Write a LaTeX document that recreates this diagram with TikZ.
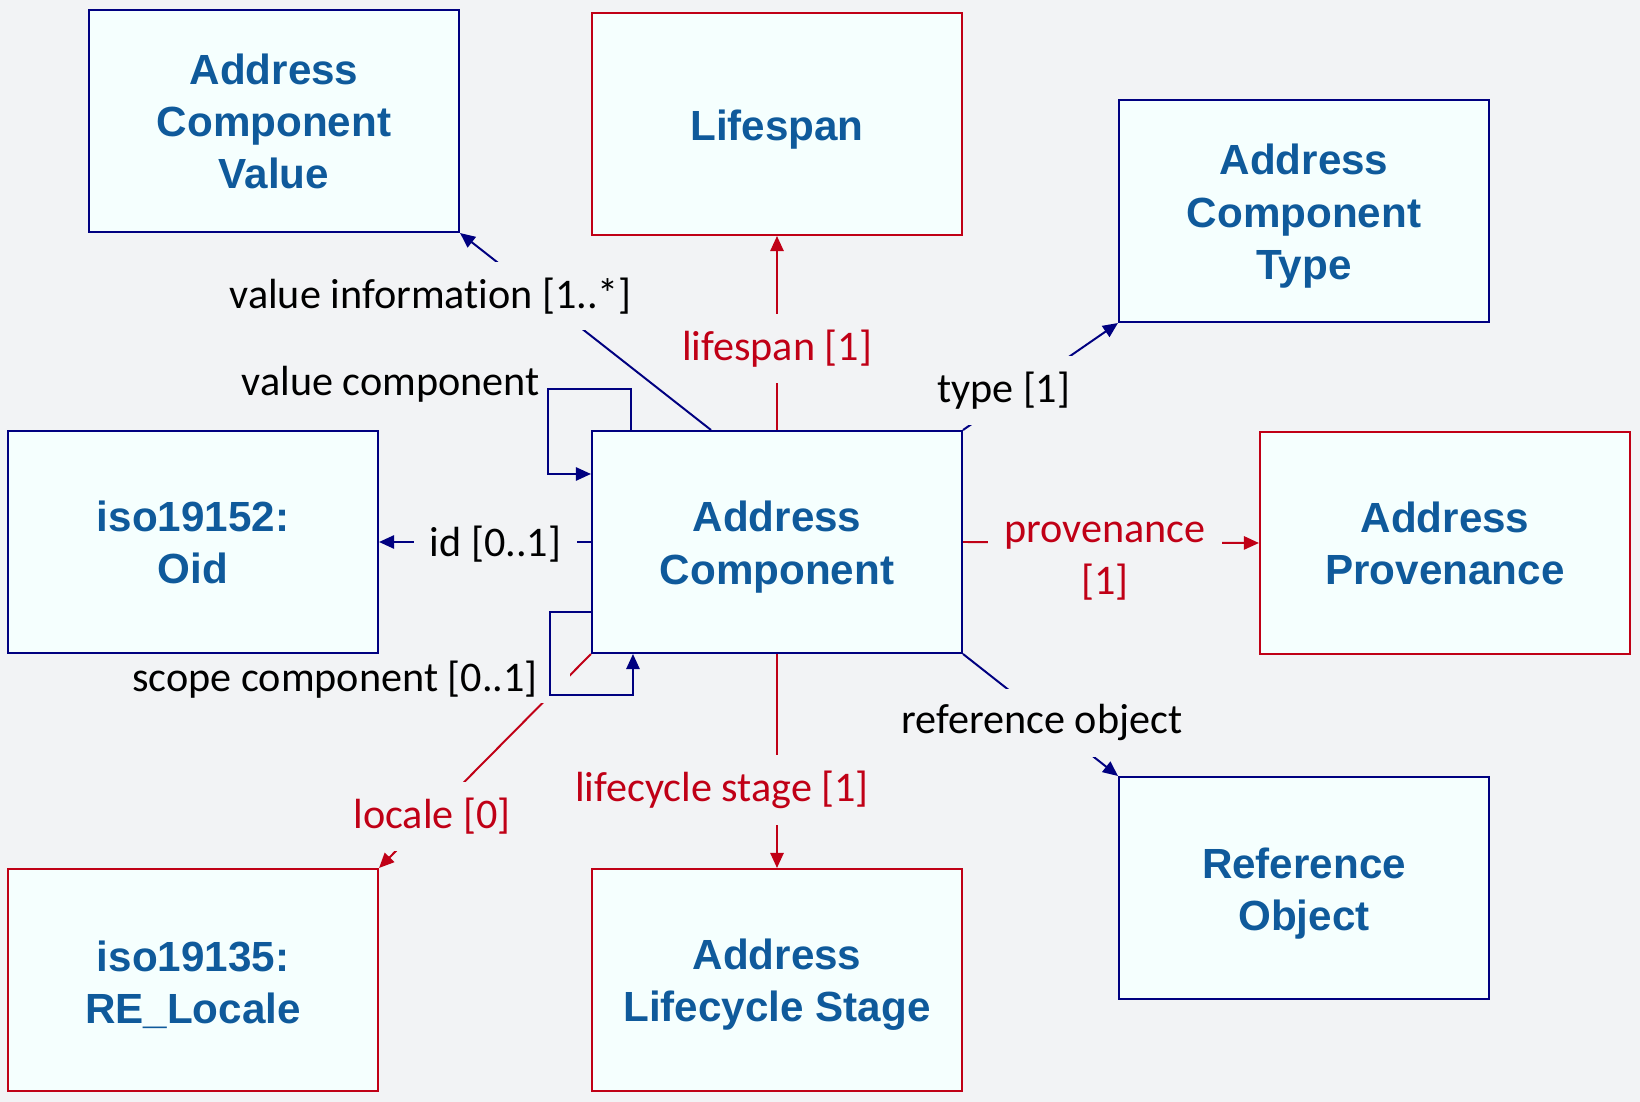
\documentclass[tikz,border=0pt]{standalone}
\usepackage{fontspec}
\setmainfont{Carlito}[Ligatures=NoCommon]
\newfontfamily\boxfont{Liberation Sans}
\usetikzlibrary{arrows.meta}
\definecolor{bgcol}{RGB}{242,243,245}
\definecolor{boxfill}{RGB}{245,255,254}
\definecolor{boxtext}{RGB}{15,90,155}
\definecolor{navy}{RGB}{0,0,128}
\definecolor{darkred}{RGB}{192,0,22}
\newcommand{\bx}{\rule{0pt}{29pt}}
\tikzset{
  cls/.style={draw=navy, fill=boxfill, line width=1.4pt, minimum width=9.25cm, minimum height=5.55cm,
    align=center, text=boxtext, font=\boxfont\bfseries\fontsize{30}{37}\selectfont},
  redcls/.style={cls, draw=darkred},
  assoc/.style={draw=navy, line width=1.4pt, -{Triangle[length=0.375cm,width=0.33cm]}},
  redassoc/.style={assoc, draw=darkred},
  gap/.style={fill=bgcol, inner sep=0.4cm, yshift=-0.05cm, align=center, font=\fontsize{30}{37}\selectfont},
  redgap/.style={gap, text=darkred},
  lbl/.style={inner sep=0pt, font=\fontsize{30}{37}\selectfont},
}
\begin{document}
\begin{tikzpicture}[x=0.025cm, y=-0.025cm]
    \useasboundingbox[fill=bgcol] (0,0) rectangle (1640,1102);
    \node[cls] (acv) at (274,121) {Address\\Component\\Value};
    \node[redcls] (life) at (777,124) {\bx Lifespan};
    \node[cls] (act) at (1304,211) {\bx Address\\Component\\Type};
    \node[cls] (oid) at (193,542) {iso19152:\\Oid};
    \node[cls] (ac) at (777,542) {\bx Address\\Component};
    \node[redcls] (prov) at (1445,543) {Address\\Provenance};
    \node[redcls] (locale) at (193,980) {\bx iso19135:\\RE\_Locale};
    \node[redcls] (stage) at (777,980) {\bx Address\\Lifecycle Stage};
    \node[cls] (ref) at (1304,888) {\bx Reference\\Object};

    \draw[assoc] ([xshift=-1.65cm]ac.north) -- node[gap, pos=0.69, xshift=-2.675cm] {value information [1..*]} (acv.south east);
    \draw[redassoc] (ac.north) -- node[redgap, pos=0.43] {lifespan [1]} (life.south);
    \draw[assoc] (ac.north east) -- node[gap, pos=0.385, xshift=-0.475cm] {type [1]} (act.south west);
    \draw[assoc] (ac.west) -- node[gap, pos=0.45] {id [0..1]} (oid.east);
    \draw[redassoc] (ac.east) -- node[redgap, pos=0.48, yshift=-0.42cm] {provenance\\{}[1]} (prov.west);
    \draw[redassoc] (ac.south) -- node[redgap, pos=0.625, xshift=-1.375cm] {lifecycle stage [1]} (stage.north);
    \draw[assoc] (ac.south east) -- node[gap, pos=0.548, xshift=-0.15cm] {reference object} (ref.north west);
    \draw[redassoc] (ac.south west) -- node[redgap, pos=0.75] {locale [0]} (locale.north east);

    \draw[assoc] ([xshift=1.0cm]ac.north west) |- node[lbl, pos=1, anchor=east, xshift=-0.18cm, yshift=0.125cm] {value component}
        ([xshift=-1.075cm, yshift=1.025cm]ac.north west) |- ([yshift=-1.1cm]ac.north west);
    \node[lbl, fill=bgcol, inner ysep=0.1cm, anchor=east] (scopelbl) at (570,680) {scope component [0..1]\kern0.8cm};
    \draw[assoc] ([yshift=1.05cm]ac.south west) -| ([xshift=-1.025cm, yshift=-1.025cm]ac.south west)
        -| ([xshift=1.05cm]ac.south west);
\end{tikzpicture}
\end{document}
